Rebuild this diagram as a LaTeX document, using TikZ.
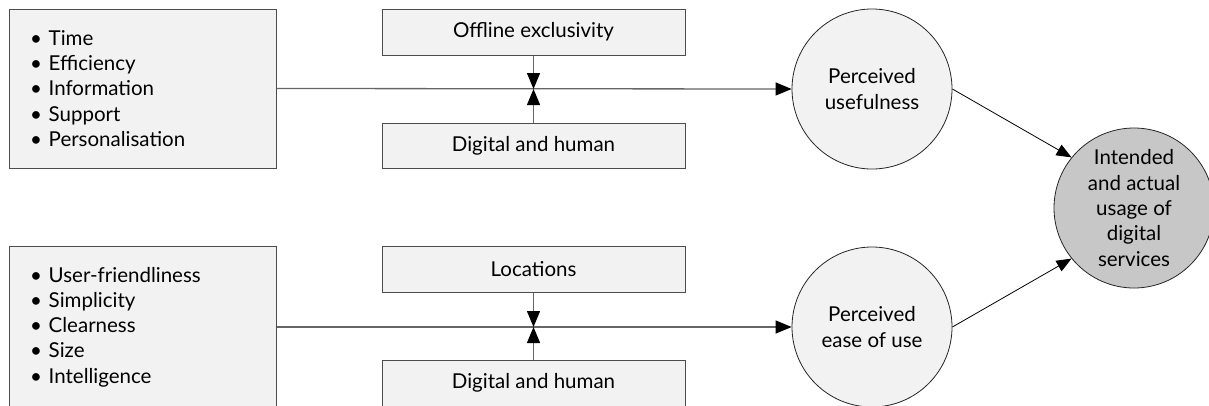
\documentclass[tikz,border=0pt]{standalone}
\usepackage{fontspec}
\setmainfont{Lato}
\usetikzlibrary{arrows.meta}
\newcommand{\dfont}{\fontsize{20.5}{25.3}\selectfont}
\tikzset{
  list/.style={draw=black!70, fill=black!5, line width=1pt, minimum width=267pt, minimum height=159pt,
    text width=225pt, inner xsep=21pt, align=left, font=\dfont},
  modbox/.style={draw=black!70, fill=black!5, line width=1pt, minimum width=303pt, minimum height=46pt, font=\dfont},
  cnode/.style={circle, draw=black!85, fill=black!5, line width=0.8pt, minimum size=160pt, inner sep=0pt, align=center, font=\dfont},
  mainline/.style={draw=black!60, line width=1.3pt, -{Triangle[length=16pt,width=13pt,black]}},
  modarrow/.style={draw=black!60, line width=1.3pt, -{Triangle[length=16pt,width=13pt,black]}},
  outarrow/.style={draw=black, line width=0.8pt, -{Triangle[length=15pt,width=12pt]}}
}
\begin{document}
\begin{tikzpicture}[x=1pt,y=-1pt]
\useasboundingbox (0,0) rectangle (1209,405);
\clip (0,0) rectangle (1209,405);
% group 1
\node[list] (b1) at (142.5,88.5) {• Time\\• Efficiency\\• Information\\• Support\\• Personalisation};
\node[modbox] (t1) at (533.5,32) {Offline exclusivity};
\node[modbox, minimum height=45pt] (d1) at (533.5,145.5) {Digital and human};
\node[cnode] (pu) at (872,89) {Perceived\\usefulness};
% group 2
\node[list, minimum height=162pt] (b2) at (142.5,327) {• User-friendliness\\• Simplicity\\• Clearness\\• Size\\• Intelligence};
\node[modbox] (t2) at (533.5,269) {Locations};
\node[modbox] (d2) at (533.5,383) {Digital and human};
\node[cnode] (peu) at (872,327) {Perceived\\ease of use};
% outcome
\node[cnode, fill=black!22] (iau) at (1134,208) {Intended\\and actual\\usage of\\digital\\services};
% connectors
\coordinate (m1) at (533.5,89);
\coordinate (m2) at (533.5,327);
\draw[mainline] (b1.east) -- (pu.west);
\draw[modarrow] (t1.south) -- (m1);
\draw[modarrow] (d1.north) -- (m1);
\draw[mainline] (b2.east) -- (peu.west);
\draw[modarrow] (t2.south) -- (m2);
\draw[modarrow] (d2.north) -- (m2);
\draw[outarrow] (pu.east) -- (iau.141);
\draw[outarrow] (peu.east) -- (iau.219);
\end{tikzpicture}
\end{document}
